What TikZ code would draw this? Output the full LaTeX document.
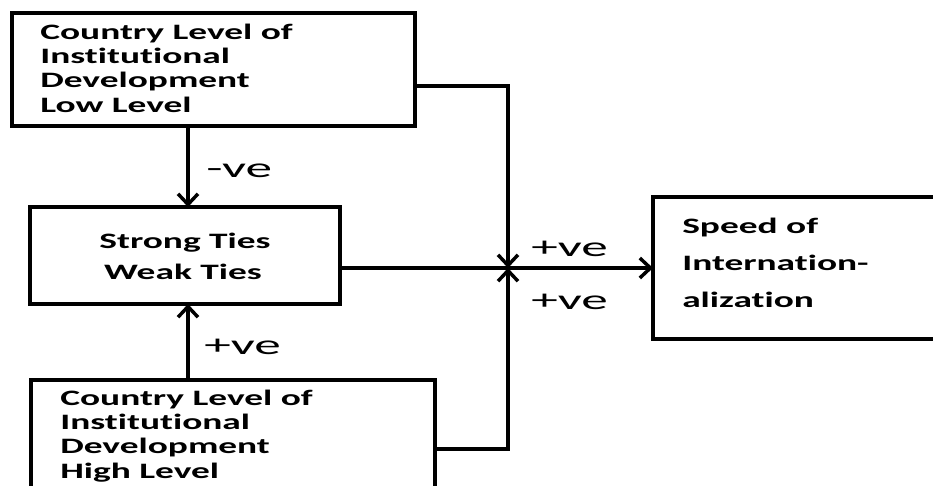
\documentclass[tikz,border=0pt]{standalone}
\usepackage{fontspec}
\usetikzlibrary{arrows.meta}
\newfontfamily\boxfont[FakeStretch=1.7, Ligatures=NoCommon]{Carlito}
\newfontfamily\lblfont[FakeStretch=1.9]{Carlito}
\tikzset{
  box/.style={draw, line width=3pt, rectangle, inner sep=0pt, outer sep=0pt, anchor=north west},
  boxtext/.style={inner sep=0pt, align=left, anchor=base west, font={\boxfont\bfseries\fontsize{16.5}{18.25}\selectfont}},
  conn/.style={line width=2.7pt},
  arr/.style={conn, -{Straight Barb[length=8pt, width=15pt, line width=2.6pt]}},
  lbl/.style={inner sep=0pt, anchor=west, font={\lblfont\fontsize{21}{22}\selectfont}}
}
\begin{document}
\begin{tikzpicture}[x=0.75pt, y=-0.75pt]
\useasboundingbox (0,0) rectangle (933,486);
\begin{scope}
\clip (0,0) rectangle (933,486);
% boxes
\node[box, minimum width=302.25pt, minimum height=84.75pt] (low) at (12,13) {};
\node[box, minimum width=232.5pt, minimum height=72.75pt] (ties) at (30,207) {};
\node[box, minimum width=303pt, minimum height=100pt] (high) at (31,380) {};
\node[box, minimum width=225pt, minimum height=106.5pt] (speed) at (653,197) {};
% texts (anchored at the baseline of the last line)
\node[boxtext] (lowtxt) at (40,112) {Country Level of\\Institutional\\Development\\Low Level};
\node[boxtext, anchor=base] (strong) at (185,248) {Strong Ties};
\node[boxtext, anchor=base] (weak) at (183,279) {Weak Ties};
\node[boxtext] (hightxt) at (60,478) {Country Level of\\Institutional\\Development\\High Level};
\node[boxtext, font={\boxfont\bfseries\fontsize{16.5}{27.75}\selectfont}] (speedtxt) at (682,307) {Speed of\\Internation-\\alization};
% helper coordinates
\coordinate (ax) at (188,0);
\coordinate (j) at (508,268);
\coordinate (lowy) at (0,86);
\coordinate (highy) at (0,449);
% connectors
\draw[arr] (low.south -| ax) -- (ties.north -| ax);
\draw[arr] (high.north -| ax) -- (ties.south -| ax);
\draw[arr] (low.east |- lowy) -| (j);
\draw[arr] (high.east |- highy) -| (j);
\draw[arr] (ties.east |- j) -- (speed.west |- j);
% labels
\node[lbl] (neg) at (206,171) {-ve};
\node[lbl] (pos1) at (204,347) {+ve};
\node[lbl] (pos2) at (531,249) {+ve};
\node[lbl] (pos3) at (531,302) {+ve};
\end{scope}
\end{tikzpicture}
\end{document}
